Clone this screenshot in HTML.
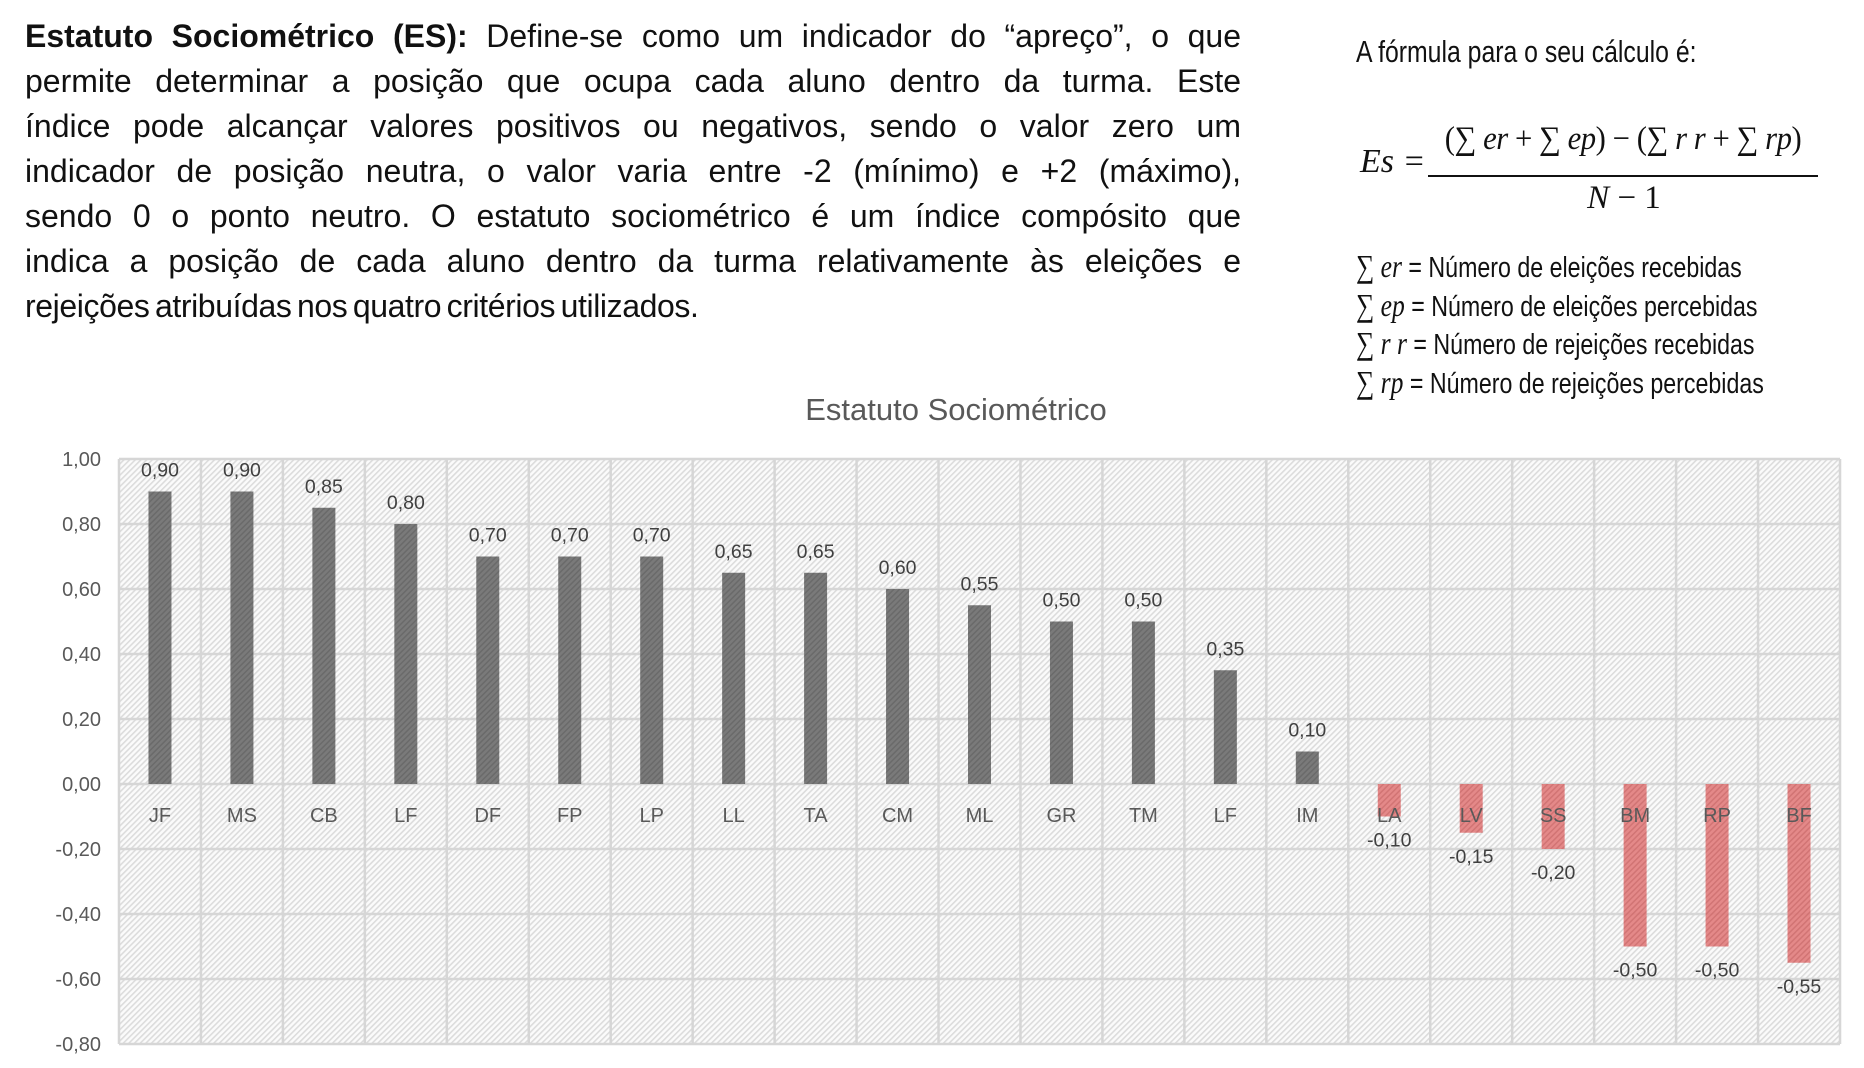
<!DOCTYPE html>
<html><head><meta charset="utf-8"><style>
html,body{margin:0;padding:0;background:#fff;}
body{width:1864px;height:1068px;position:relative;overflow:hidden;}
.p{position:absolute;left:25px;top:14px;width:1216px;font-family:"Liberation Sans",sans-serif;font-size:32px;color:#111;}
.p div{height:45px;line-height:45px;text-align:justify;text-align-last:justify;white-space:nowrap;}
.p div.last{text-align-last:left;}
.f{position:absolute;font-family:"Liberation Sans",sans-serif;color:#111;transform-origin:0 0;white-space:nowrap;}
</style></head><body>
<div class="p" id="para">
<div><b>Estatuto Sociométrico (ES):</b> Define-se como um indicador do “apreço”, o que</div>
<div>permite determinar a posição que ocupa cada aluno dentro da turma. Este</div>
<div>índice pode alcançar valores positivos ou negativos, sendo o valor zero um</div>
<div>indicador de posição neutra, o valor varia entre -2 (mínimo) e +2 (máximo),</div>
<div>sendo 0 o ponto neutro. O estatuto sociométrico é um índice compósito que</div>
<div>indica a posição de cada aluno dentro da turma relativamente às eleições e</div>
<div class="last" style="word-spacing:-3px;letter-spacing:-0.4px">rejeições atribuídas nos quatro critérios utilizados.</div>
</div>
<div class="f" style="left:1356px;top:34px;font-size:31px;transform:scaleX(0.8)">A fórmula para o seu cálculo é:</div>
<div class="f" style="left:1360px;top:143px;font-family:'Liberation Serif',serif;font-style:italic;font-size:34px">Es =</div>
<div class="f" style="left:1428px;top:121px;width:390px;text-align:center;font-family:'Liberation Serif',serif;font-size:33px;letter-spacing:-0.5px;transform:scaleX(0.93);transform-origin:50% 0"><span>(∑ <i>er</i> + ∑ <i>ep</i>) − (∑ <i>r r</i> + ∑ <i>rp</i>)</span></div>
<div style="position:absolute;left:1428px;top:175px;width:390px;height:2px;background:#111"></div>
<div class="f" style="left:1430px;top:180px;width:388px;text-align:center;font-family:'Liberation Serif',serif;font-size:33px"><i>N</i> − 1</div>
<div class="f" style="left:1356px;top:248px;font-size:29px;line-height:36.5px;transform:scaleX(0.8)">
<div><span style="font-family:'Liberation Serif',serif;font-size:32px">∑ <i>er</i></span> = Número de eleições recebidas</div>
<div><span style="font-family:'Liberation Serif',serif;font-size:32px">∑ <i>ep</i></span> = Número de eleições percebidas</div>
<div><span style="font-family:'Liberation Serif',serif;font-size:32px">∑ <i>r r</i></span> = Número de rejeições recebidas</div>
<div><span style="font-family:'Liberation Serif',serif;font-size:32px">∑ <i>rp</i></span> = Número de rejeições percebidas</div>
</div>
<svg width="1864" height="1068" style="position:absolute;left:0;top:0" xmlns="http://www.w3.org/2000/svg">
<defs>
<pattern id="h" width="4" height="4" patternUnits="userSpaceOnUse" patternTransform="rotate(45)">
<rect width="4" height="4" fill="#fbfbfb"/><rect width="1.6" height="4" fill="#dcdcdc"/></pattern>
<pattern id="g" width="4" height="4" patternUnits="userSpaceOnUse" patternTransform="rotate(45)">
<rect width="4" height="4" fill="#7a7a7a"/><rect width="1.5" height="4" fill="#6a6a6a"/></pattern>
<pattern id="r" width="4" height="4" patternUnits="userSpaceOnUse" patternTransform="rotate(45)">
<rect width="4" height="4" fill="#e27f7f"/><rect width="1.5" height="4" fill="#d06b6b"/></pattern>
</defs>
<text x="956" y="420" text-anchor="middle" font-family="Liberation Sans,sans-serif" font-size="31" fill="#595959">Estatuto Sociométrico</text>
<rect x="119" y="459" width="1721" height="585" fill="url(#h)"/>
<g id="grid" stroke="#d6d6d6" stroke-width="2.5"></g>
<g id="bars"></g>
<g id="txt" font-family="Liberation Sans,sans-serif" font-size="19.5" fill="#404040" text-anchor="middle"></g>
</svg>
<script>
var ns="http://www.w3.org/2000/svg";
function el(p,t,a,tx){var e=document.createElementNS(ns,t);for(var k in a)e.setAttribute(k,a[k]);if(tx!=null)e.textContent=tx;document.getElementById(p).appendChild(e);return e;}
var L=119,T=459,W=1721,n=21,cw=W/n,z=784,u=325;
for(var i=0;i<=9;i++){var y=T+i*65;el('grid','line',{x1:L,x2:L+W,y1:y,y2:y});
var v=(1-i*0.2).toFixed(2).replace('.',',');if(v=="-0,00")v="0,00";
el('txt','text',{x:L-18,y:y+7,'text-anchor':'end','font-size':'20',fill:'#595959'},v);}
for(var i=0;i<=n;i++){var x=L+i*cw;el('grid','line',{x1:x,x2:x,y1:T,y2:T+585});}
var lab=["JF","MS","CB","LF","DF","FP","LP","LL","TA","CM","ML","GR","TM","LF","IM","LA","LV","SS","BM","RP","BF"];
var val=[.9,.9,.85,.8,.7,.7,.7,.65,.65,.6,.55,.5,.5,.35,.1,-.1,-.15,-.2,-.5,-.5,-.55];
for(var i=0;i<n;i++){var cx=L+cw*(i+.5);
el('txt','text',{x:cx,y:822,'font-size':'20',fill:'#595959'},lab[i]);}
for(var i=0;i<n;i++){var cx=L+cw*(i+.5),v=val[i],h=Math.abs(v)*u;
if(v>0){el('bars','rect',{x:cx-11.5,y:z-h,width:23,height:h,fill:'url(#g)'});
el('txt','text',{x:cx,y:z-h-15},v.toFixed(2).replace('.',','));}
else{el('bars','rect',{x:cx-11.5,y:z,width:23,height:h,fill:'url(#r)','fill-opacity':'0.92'});
el('txt','text',{x:cx,y:z+h+30},v.toFixed(2).replace('.',','));}}
var ds=document.querySelectorAll('#para div');
for(var i=0;i<ds.length;i++){var d=ds[i];var fs=32;
d.style.textAlignLast='left';d.style.display='inline-block';d.style.width='auto';
while(d.getBoundingClientRect().width>1214&&fs>20){fs-=0.5;d.style.fontSize=fs+'px';}
d.style.display='block';
if(!d.classList.contains('last'))d.style.textAlignLast='justify';}
</script>
</body></html>
